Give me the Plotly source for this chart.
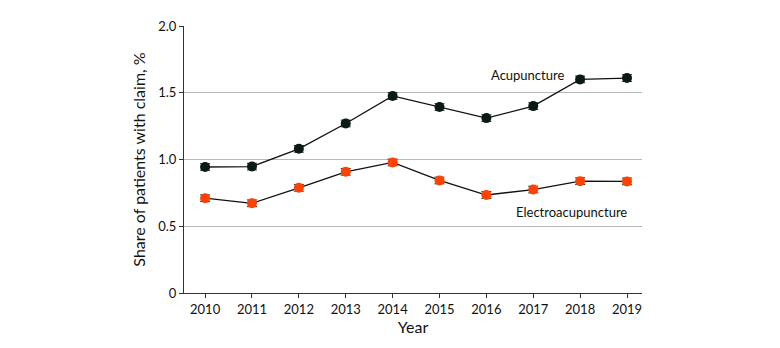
import plotly.graph_objects as go

years = [2010, 2011, 2012, 2013, 2014, 2015, 2016, 2017, 2018, 2019]
acupuncture = [0.944, 0.947, 1.08, 1.27, 1.476, 1.393, 1.31, 1.40, 1.60, 1.61]
electro = [0.71, 0.672, 0.788, 0.908, 0.978, 0.843, 0.734, 0.775, 0.838, 0.836]
acu_err = [0.025] * 10
elec_err = [0.025] * 10
y_ticks = [0, 0.5, 1.0, 1.5, 2.0]
y_ticklabels = ["0", "0.5", "1.0", "1.5", "2.0"]

FONT = "Lato, 'Open Sans', sans-serif"
fig = go.Figure()
fig.add_trace(go.Scatter(
    x=years, y=acupuncture, mode="lines+markers", name="Acupuncture",
    line=dict(color="#111111", width=1.3),
    marker=dict(color="#0b1a17", size=10),
    error_y=dict(type="data", array=acu_err, color="#2a2a2a", thickness=1, width=5),
))
fig.add_trace(go.Scatter(
    x=years, y=electro, mode="lines+markers", name="Electroacupuncture",
    line=dict(color="#111111", width=1.3),
    marker=dict(color="#ff4200", size=10),
    error_y=dict(type="data", array=elec_err, color="#2a2a2a", thickness=1, width=5),
))
fig.add_annotation(x=2017.7, y=1.63, text="Acupuncture", showarrow=False,
                   xanchor="right", yanchor="middle", font=dict(size=13, color="#111"))
fig.add_annotation(x=2019.04, y=0.61, text="Electroacupuncture", showarrow=False,
                   xanchor="right", yanchor="middle", font=dict(size=13, color="#111"))

fig.update_layout(
    width=780, height=348,
    margin=dict(l=176, r=146, t=10, b=63),
    paper_bgcolor="white", plot_bgcolor="white",
    showlegend=False,
    font=dict(family=FONT, size=13, color="#111"),
    xaxis=dict(range=[2009.55, 2019.32], tickvals=years, ticktext=[str(y) for y in years],
               showgrid=False, zeroline=False, showline=True, linecolor="#333", linewidth=1,
               ticks="outside", ticklen=4, tickcolor="#333",
               title=dict(text="Year", standoff=3)),
    yaxis=dict(range=[0, 2.0], tickvals=y_ticks, ticktext=y_ticklabels,
               showgrid=True, gridcolor="#b8b8b8", gridwidth=1, zeroline=False,
               showline=True, linecolor="#333", linewidth=1,
               ticks="outside", ticklen=4, tickcolor="#333",
               title=dict(text="Share of patients with claim, %", standoff=8)),
)
fig.write_html("out.html")
